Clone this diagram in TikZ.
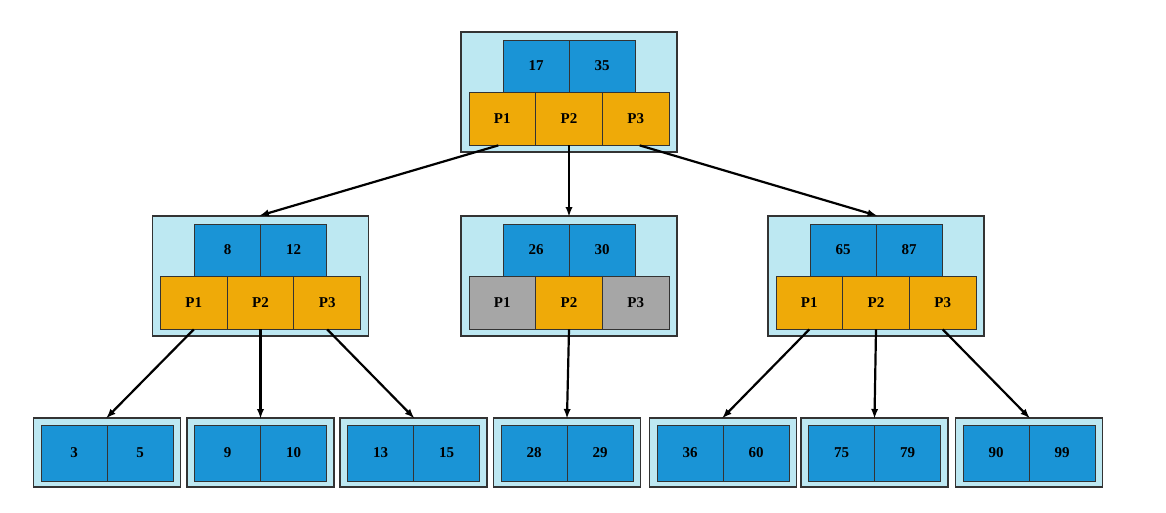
\documentclass[tikz,border=0pt]{standalone}
\usepackage{fontspec}
\setmainfont{Liberation Serif}
\begin{document}
\definecolor{kb}{HTML}{1A94D6}
\definecolor{po}{HTML}{EFAA08}
\definecolor{lb}{HTML}{BDE8F2}
\definecolor{gr}{HTML}{A6A6A6}
\tikzset{x=1pt,y=-1pt,
 outer/.style={draw=black!80,fill=lb,line width=1.2pt,minimum width=216pt,minimum height=120pt,inner sep=0},
 cell/.style={draw=black!80,line width=0.8pt,inner sep=0,minimum height=53pt,font=\bfseries\fontsize{15}{15}\selectfont},
 key/.style={cell,fill=kb,minimum width=66pt,minimum height=52pt},
 ptr/.style={cell,fill=po,minimum width=66.7pt},
 gptr/.style={ptr,fill=gr},
 leaf/.style={draw=black!80,fill=lb,line width=1.2pt,minimum width=147pt,minimum height=69pt,inner sep=0},
 lkey/.style={cell,fill=kb,minimum width=66pt,minimum height=56pt},
 arr/.style={-latex,line width=2.2pt,shorten >=-1pt}}
\newcommand\inode[8]{%
 \node[outer] (#1) at (#2,#3+60) {};
 \node[key] (#1k1) at (#2-33,#3+34) {#4};
 \node[key] (#1k2) at (#2+33,#3+34) {#5};
 \node[#6] (#1p1) at (#2-66.7,#3+86.5) {P1};
 \node[ptr] (#1p2) at (#2,#3+86.5) {P2};
 \node[#7] (#1p3) at (#2+66.7,#3+86.5) {P3};}
\newcommand\lnode[4]{%
 \node[leaf] (#1) at (#2,452.5) {};
 \node[lkey] at (#2-33,453) {#3};
 \node[lkey] at (#2+33,453) {#4};}
\begin{tikzpicture}
\useasboundingbox (0,0) rectangle (1166,513);
\inode{r}{569}{32}{17}{35}{ptr}{ptr}{}
\inode{a}{260.5}{216}{8}{12}{ptr}{ptr}{}
\inode{b}{569}{216}{26}{30}{gptr}{gptr}{}
\inode{c}{876}{216}{65}{87}{ptr}{ptr}{}
\lnode{l1}{107}{3}{5}
\lnode{l2}{260.5}{9}{10}
\lnode{l3}{413.5}{13}{15}
\lnode{l4}{567}{28}{29}
\lnode{l5}{723}{36}{60}
\lnode{l6}{874.5}{75}{79}
\lnode{l7}{1029}{90}{99}
\draw[arr] (rp1.south) ++(-4,0) coordinate (s1) -- (a.north);
\draw[arr] (rp2.south) -- (b.north);
\draw[arr] (rp3.south) ++(4,0) coordinate (s3) -- (c.north);
\draw[arr] (ap1.south) -- (l1.north);
\draw[arr] (ap2.south) -- (l2.north);
\draw[arr] (ap3.south) -- (l3.north);
\draw[arr] (bp2.south) -- (l4.north);
\draw[arr] (cp1.south) -- (l5.north);
\draw[arr] (cp2.south) -- (l6.north);
\draw[arr] (cp3.south) -- (l7.north);
\end{tikzpicture}
\end{document}
